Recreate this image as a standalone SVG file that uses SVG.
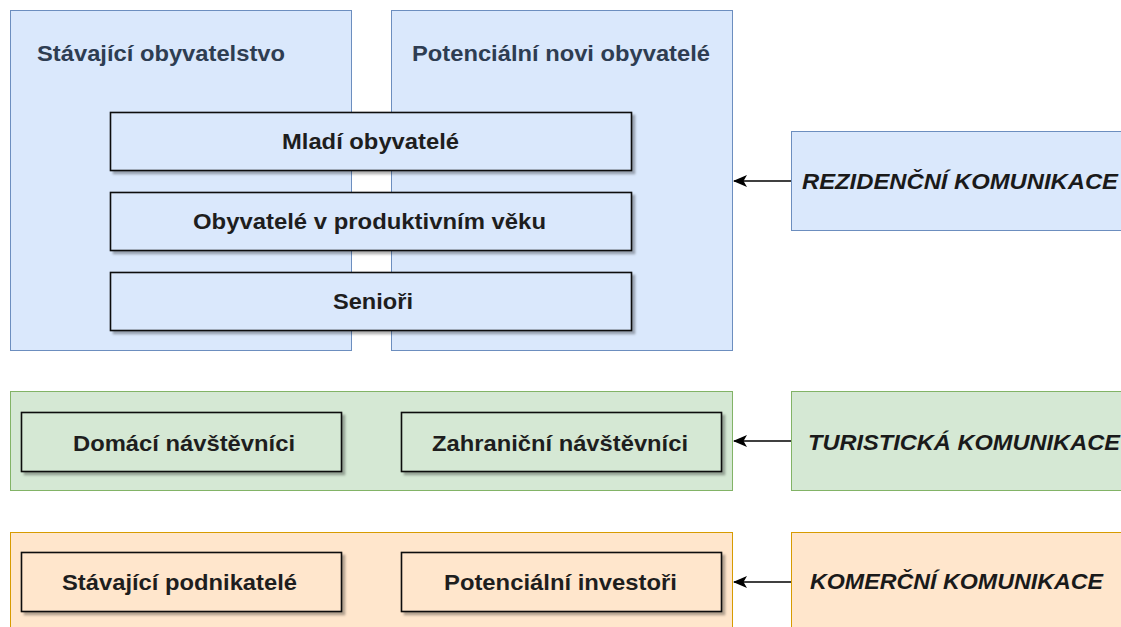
<svg xmlns="http://www.w3.org/2000/svg" width="1121" height="627" viewBox="0 0 1121 627">
<style>
.blue{fill:#dae8fc;stroke:#6c8ebf;stroke-width:1}
.green{fill:#d5e8d4;stroke:#82b366;stroke-width:1}
.orange{fill:#ffe6cc;stroke:#d79b00;stroke-width:1}
.inner{stroke:#111;stroke-width:1.6;filter:url(#sh)}
.ib{fill:#dae8fc}.ig{fill:#d5e8d4}.io{fill:#ffe6cc}
text{font-family:"Liberation Sans",Arial,sans-serif;font-size:22px;font-weight:bold;fill:#1e1e1e}
.title{fill:#2e3d52}
.it{font-style:italic;font-weight:bold;fill:#1a1a1a}
.conn{stroke:#000;stroke-width:1.6;fill:none;marker-end:url(#ah)}
</style>
<defs>
<filter id="sh" x="-5%" y="-10%" width="115%" height="130%">
<feDropShadow dx="3" dy="3" stdDeviation="1.2" flood-color="#000" flood-opacity="0.3"/>
</filter>
<marker id="ah" viewBox="0 0 14 12" refX="13" refY="6" markerWidth="14" markerHeight="12" markerUnits="userSpaceOnUse" orient="auto">
<path d="M0,0 L14,6 L0,12 L3.5,6 z" fill="#000"/>
</marker>
</defs>
<rect width="1121" height="627" fill="#fff"/>

<g id="stavajici-obyvatelstvo">
<rect class="blue" x="10.5" y="10.5" width="341" height="340"/>
<text class="title" x="37" y="61" textLength="248" lengthAdjust="spacingAndGlyphs">Stávající obyvatelstvo</text>
</g>
<g id="potencialni-novi-obyvatele">
<rect class="blue" x="391.5" y="10.5" width="341" height="340"/>
<text class="title" x="412" y="61" textLength="298" lengthAdjust="spacingAndGlyphs">Potenciální novi obyvatelé</text>
</g>
<g id="mladi-obyvatele">
<rect class="inner ib" x="110.5" y="112.5" width="521" height="58"/>
<text x="282" y="149" textLength="177" lengthAdjust="spacingAndGlyphs">Mladí obyvatelé</text>
</g>
<g id="obyvatele-produktivni">
<rect class="inner ib" x="110.5" y="192.5" width="521" height="58"/>
<text x="193" y="229" textLength="353" lengthAdjust="spacingAndGlyphs">Obyvatelé v produktivním věku</text>
</g>
<g id="seniori">
<rect class="inner ib" x="110.5" y="272.5" width="521" height="58"/>
<text x="333" y="309" textLength="80" lengthAdjust="spacingAndGlyphs">Senioři</text>
</g>
<g id="rezidencni-komunikace">
<rect class="blue" x="791.5" y="131.5" width="340" height="99"/>
<text class="it" x="802" y="189" textLength="316" lengthAdjust="spacingAndGlyphs">REZIDENČNÍ KOMUNIKACE</text>
</g>

<g id="turiste">
<rect class="green" x="10.5" y="391.5" width="722" height="99"/>
</g>
<g id="domaci-navstevnici">
<rect class="inner ig" x="21.5" y="412.5" width="320" height="59"/>
<text x="73" y="451" textLength="222" lengthAdjust="spacingAndGlyphs">Domácí návštěvníci</text>
</g>
<g id="zahranicni-navstevnici">
<rect class="inner ig" x="401.5" y="412.5" width="320" height="59"/>
<text x="432" y="451" textLength="256" lengthAdjust="spacingAndGlyphs">Zahraniční návštěvníci</text>
</g>
<g id="turisticka-komunikace">
<rect class="green" x="791.5" y="391.5" width="340" height="99"/>
<text class="it" x="808" y="450" textLength="312" lengthAdjust="spacingAndGlyphs">TURISTICKÁ KOMUNIKACE</text>
</g>

<g id="podnikatele">
<rect class="orange" x="10.5" y="532.5" width="722" height="110"/>
</g>
<g id="stavajici-podnikatele">
<rect class="inner io" x="21.5" y="552.5" width="320" height="59"/>
<text x="62" y="590" textLength="235" lengthAdjust="spacingAndGlyphs">Stávající podnikatelé</text>
</g>
<g id="potencialni-investori">
<rect class="inner io" x="401.5" y="552.5" width="320" height="59"/>
<text x="444" y="590" textLength="233" lengthAdjust="spacingAndGlyphs">Potenciální investoři</text>
</g>
<g id="komercni-komunikace">
<rect class="orange" x="791.5" y="532.5" width="340" height="110"/>
<text class="it" x="810" y="589" textLength="293" lengthAdjust="spacingAndGlyphs">KOMERČNÍ KOMUNIKACE</text>
</g>

<g id="connectors">
<line class="conn" x1="791" y1="181" x2="734" y2="181"/>
<line class="conn" x1="791" y1="441" x2="734" y2="441"/>
<line class="conn" x1="791" y1="582" x2="734" y2="582"/>
</g>
</svg>
